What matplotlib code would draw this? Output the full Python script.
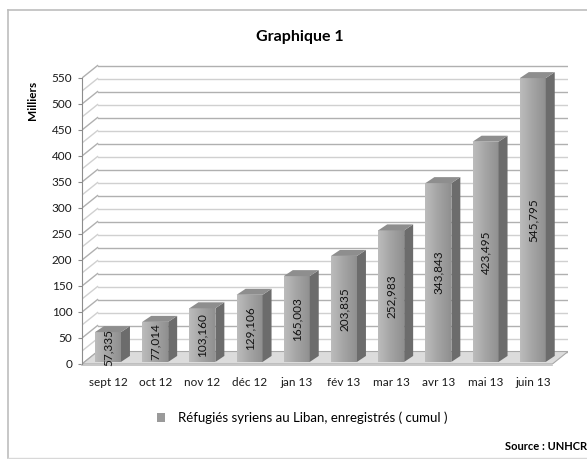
import numpy as np
import matplotlib
matplotlib.use("Agg")
import matplotlib.pyplot as plt
from matplotlib.patches import Polygon, Rectangle
from matplotlib.colors import LinearSegmentedColormap

plt.rcParams['font.family'] = ['Lato', 'DejaVu Sans']

# données (réfugiés enregistrés, cumul)
mois = ['sept 12', 'oct 12', 'nov 12', 'déc 12', 'jan 13', 'fév 13',
        'mar 13', 'avr 13', 'mai 13', 'juin 13']
refugies = [57335, 77014, 103160, 129106, 165003, 203835,
            252983, 343843, 423495, 545795]
yticks = list(range(0, 551, 50))
grid_vals = list(range(0, 551, 25))

fig = plt.figure(figsize=(5.87, 4.59), dpi=100)
W, H = 587, 459
# axes = plan avant du graphique 3D
ax = fig.add_axes([82 / W, (H - 364) / H, 486 / W, 300 / H])
xl, xr = -0.551, 9.746
ymax = 576.9
ax.set_xlim(xl, xr)
ax.set_ylim(0, ymax)

# profondeur du mur du fond
ddx, ddy = 0.33, 24.0

# quadrillage : mur du fond + paroi gauche
for v in grid_vals:
    major = v % 50 == 0
    c = '#b0b0b0' if major else '#d0d0d0'
    ax.plot([xl + ddx, xr], [v + ddy, v + ddy], color=c, lw=1.0, zorder=1)
    ax.plot([xl, xl + ddx], [v, v + ddy], color=c, lw=1.0, zorder=1)

# sol
floor = Polygon([(xl, 0), (xr - ddx, 0), (xr, ddy), (xl + ddx, ddy)],
                closed=True, facecolor='#dcdcdc', edgecolor='#a8a8a8',
                lw=0.8, zorder=2)
ax.add_patch(floor)
ax.plot([xl, xr - ddx], [-2, -2], color='#bdbdbd', lw=1.2, zorder=2,
        clip_on=False)

# barres pseudo 3D
w = 0.55
bdx, bdy = 0.19, 11.5
b0 = 4.0
front_cmap = LinearSegmentedColormap.from_list('f', ['#bcbcbc', '#a4a4a4', '#909090'])
for i, n in enumerate(refugies):
    v = n / 1000
    x0, x1 = i - w / 2, i + w / 2
    top = b0 + v
    # face avant (dégradé)
    rect = Rectangle((x0, b0), w, v, facecolor='none', edgecolor='none', zorder=4)
    ax.add_patch(rect)
    grad = np.tile(np.linspace(0, 1, 50), (2, 1))
    im = ax.imshow(grad, cmap=front_cmap, extent=(x0, x1, b0, top),
                   aspect='auto', zorder=4, interpolation='bilinear')
    im.set_clip_path(rect)
    # face latérale
    side = Polygon([(x1, b0), (x1 + bdx, b0 + bdy), (x1 + bdx, top + bdy), (x1, top)],
                   closed=True, facecolor='#6c6c6c', edgecolor='none', zorder=4)
    ax.add_patch(side)
    # dessus
    lid = Polygon([(x0, top), (x1, top), (x1 + bdx, top + bdy), (x0 + bdx, top + bdy)],
                  closed=True, facecolor='#8e8e8e', edgecolor='none', zorder=4)
    ax.add_patch(lid)
    ax.text(i, b0 + v / 2, f"{n:,}", rotation=90, ha='center', va='center',
            fontsize=8.5, color='#111111', zorder=6)

ax.set_xlim(xl, xr)
ax.set_ylim(0, ymax)

# axes
for s in ['top', 'right', 'bottom']:
    ax.spines[s].set_visible(False)
ax.spines['left'].set_bounds(0, 550)
ax.spines['left'].set_color('#8c8c8c')
ax.spines['left'].set_zorder(3)
ax.set_yticks(yticks)
ax.set_yticklabels([str(t) for t in yticks], fontsize=8.5, color='#1a1a1a')
ax.tick_params(axis='y', length=3, color='#8c8c8c', pad=4)
ax.set_xticks(range(len(mois)))
ax.set_xticklabels(mois, fontsize=8.5, color='#1a1a1a')
ax.tick_params(axis='x', length=0, pad=9)
ax.set_ylabel('Milliers', fontsize=8.5, fontweight='bold')
ax.yaxis.set_label_coords(-0.09, 0.88)
ax.set_facecolor('none')

# titre, légende, source
fig.text(300 / W, 1 - 37 / H, 'Graphique 1', ha='center', va='center',
         fontsize=11.5, fontweight='bold')
legend_patch = Rectangle((0, 0), 1, 1, facecolor='#9a9a9a', edgecolor='none')
fig.legend([legend_patch], ['Réfugiés syriens au Liban, enregistrés ( cumul )'],
           loc='center', bbox_to_anchor=(302 / W, 1 - 418 / H), frameon=False,
           fontsize=9.5, handlelength=0.6, handleheight=0.6, handletextpad=1.0)
fig.text(1.0, 1 - 447 / H, 'Source : UNHCR', ha='right', va='center',
         fontsize=8, fontweight='bold')

# cadre du graphique
fig.add_artist(plt.Line2D([8 / W, 8 / W], [1 - 10 / H, 1 - 458 / H],
                          transform=fig.transFigure, color='#bdbdbd', lw=1.2))
fig.add_artist(plt.Line2D([8 / W, 1.0], [1 - 10 / H, 1 - 10 / H],
                          transform=fig.transFigure, color='#bdbdbd', lw=1.2))
fig.add_artist(plt.Line2D([8 / W, 1.0], [1 - 458 / H, 1 - 458 / H],
                          transform=fig.transFigure, color='#d8d8d8', lw=1.0))

fig.savefig('out.png', dpi=100)
